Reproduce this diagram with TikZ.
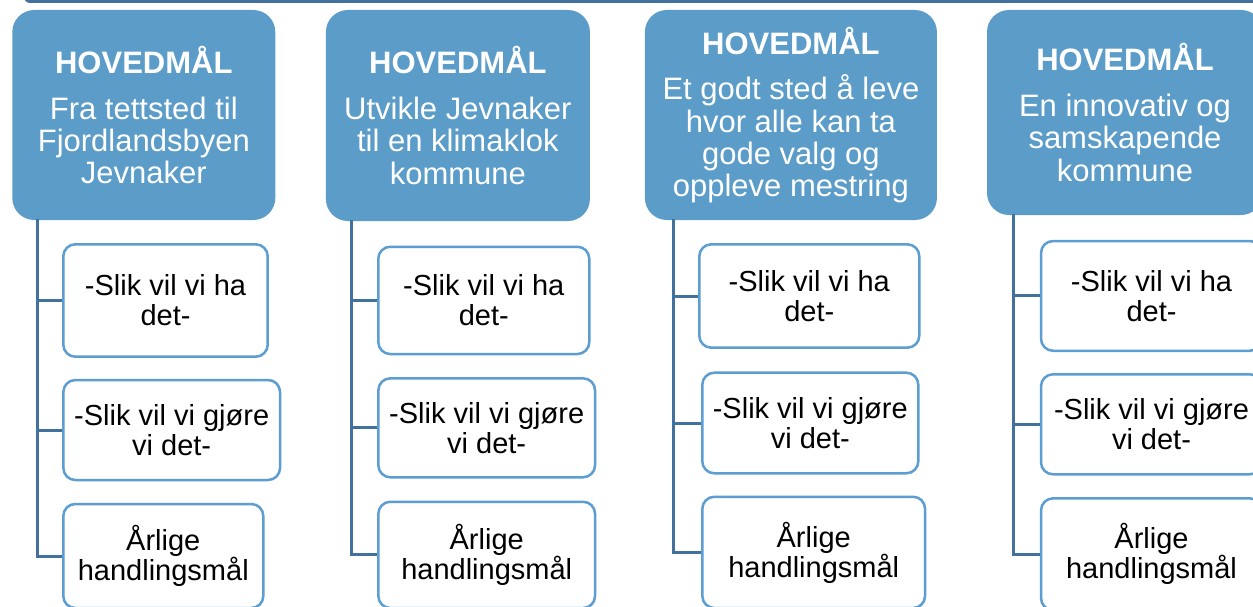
\documentclass[tikz,border=0pt]{standalone}
\usepackage{fontspec}
\setmainfont{Liberation Sans}
\definecolor{mainblue}{RGB}{91,156,201}
\definecolor{edgeblue}{RGB}{92,157,210}
\definecolor{linkblue}{RGB}{65,113,156}
\begin{document}
\begin{tikzpicture}[x=1pt,y=-1pt,
  goal/.style={fill=mainblue, rounded corners=22pt, text=white, align=center, inner sep=0pt,
    font=\fontsize{31}{32.3}\selectfont},
  sub/.style={draw=edgeblue, line width=2.5pt, fill=white, rounded corners=12pt, align=center,
    inner sep=0pt, font=\fontsize{29}{30}\selectfont},
  conn/.style={draw=linkblue, line width=3pt}]
\useasboundingbox (0,0) rectangle (1253,607);
\clip (0,0) rectangle (1253,607);
% top bar
\fill[linkblue, rounded corners=6pt] (24,-20) rectangle (1300,3);

% main goals
\node[goal, minimum width=263pt, minimum height=210pt] (m1) at (143.8,115)
  {\textbf{HOVEDMÅL}\\[13.5pt]Fra tettsted til\\Fjordlandsbyen\\Jevnaker};
\node[goal, minimum width=264pt, minimum height=211pt] (m2) at (457.9,115.5)
  {\textbf{HOVEDMÅL}\\[13.5pt]Utvikle Jevnaker\\til en klimaklok\\kommune};
\node[goal, minimum width=292pt, minimum height=210pt] (m3) at (790.9,115)
  {\textbf{HOVEDMÅL}\\[13.5pt]Et godt sted å leve\\hvor alle kan ta\\gode valg og\\oppleve mestring};
\node[goal, minimum width=276pt, minimum height=205pt] (m4) at (1125,112.5)
  {\textbf{HOVEDMÅL}\\[13.5pt]En innovativ og\\samskapende\\kommune};

% trunk coordinates
\coordinate (v1) at (37.5,219);
\coordinate (v2) at (351.7,220);
\coordinate (v3) at (673.3,219);
\coordinate (v4) at (1013.3,214);

% sub boxes column 1
\node[sub, minimum width=204.4pt, minimum height=112.4pt] (a1) at (165.5,300.5) {-Slik vil vi ha\\det-};
\node[sub, minimum width=216.7pt, minimum height=100pt] (b1) at (171.7,430) {-Slik vil vi gjøre\\vi det-};
\node[sub, minimum width=200pt, minimum height=104pt] (c1) at (163.3,556) {Årlige\\handlingsmål};
% column 2
\node[sub, minimum width=211pt, minimum height=107.3pt] (a2) at (483.8,300.4) {-Slik vil vi ha\\det-};
\node[sub, minimum width=216.7pt, minimum height=99pt] (b2) at (486.7,427.8) {-Slik vil vi gjøre\\vi det-};
\node[sub, minimum width=216.7pt, minimum height=106.3pt] (c2) at (486.7,554.9) {Årlige\\handlingsmål};
% column 3
\node[sub, minimum width=220pt, minimum height=103.4pt] (a3) at (809.3,296) {-Slik vil vi ha\\det-};
\node[sub, minimum width=216pt, minimum height=100.6pt] (b3) at (810.3,423) {-Slik vil vi gjøre\\vi det-};
\node[sub, minimum width=222.7pt, minimum height=111.3pt] (c3) at (813.7,552.4) {Årlige\\handlingsmål};
% column 4
\node[sub, minimum width=221pt, minimum height=109.7pt] (a4) at (1151.5,295.9) {-Slik vil vi ha\\det-};
\node[sub, minimum width=221pt, minimum height=100pt] (b4) at (1151.5,424.3) {-Slik vil vi gjøre\\vi det-};
\node[sub, minimum width=221pt, minimum height=111.7pt] (c4) at (1151.5,554.2) {Årlige\\handlingsmål};

% connectors
\foreach \i in {1,2,3,4}{
  \draw[conn] (v\i) |- (c\i.west);
  \draw[conn] (v\i |- a\i.west) -- (a\i.west);
  \draw[conn] (v\i |- b\i.west) -- (b\i.west);
}
\end{tikzpicture}
\end{document}
